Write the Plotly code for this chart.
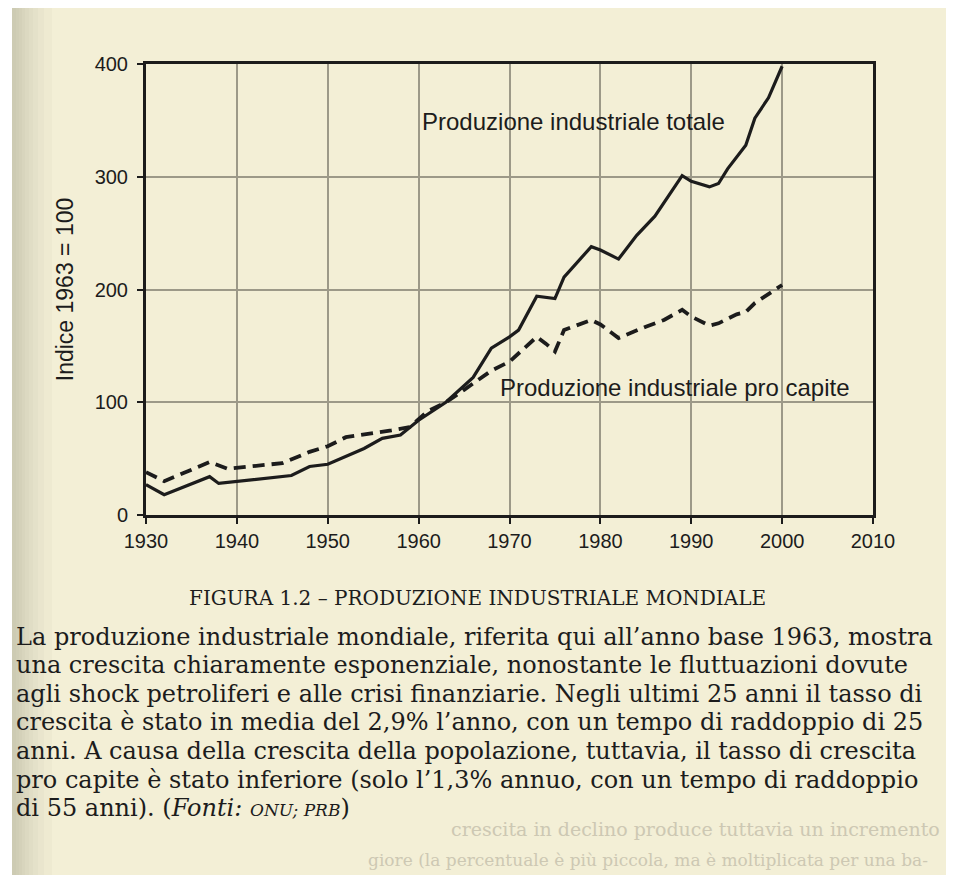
import plotly.graph_objects as go

# ---- data ----
years_total = [1930, 1932, 1937, 1938, 1946, 1948, 1950, 1954, 1956, 1958, 1960, 1963,
               1966, 1968, 1970, 1971, 1973, 1975, 1976, 1979, 1980, 1982, 1984, 1986,
               1989, 1990, 1992, 1993, 1994, 1996, 1997, 1998.5, 2000]
total = [27, 18, 34, 28, 35, 43, 45, 59, 68, 71, 84, 100,
         122, 148, 158, 164, 194, 192, 211, 238, 235, 227, 248, 265,
         301, 296, 291, 294, 307, 328, 352, 370, 398]

years_pc = [1930, 1932, 1937, 1939, 1945, 1948, 1950, 1952, 1957, 1959, 1961, 1963,
            1965, 1968, 1970, 1973, 1974, 1975, 1976, 1979, 1980, 1982, 1985, 1987,
            1989, 1990, 1992, 1993, 1995, 1996, 1997, 1998.5, 2000]
per_capita = [38, 30, 47, 41, 46, 56, 61, 69, 75, 78, 92, 100,
              111, 128, 136, 158, 152, 145, 164, 173, 169, 157, 167, 173,
              182, 176, 168, 170, 178, 180, 188, 196, 204]

x_ticks = [1930, 1940, 1950, 1960, 1970, 1980, 1990, 2000, 2010]
y_ticks = [0, 100, 200, 300, 400]

label_total = "Produzione industriale totale"
label_pc = "Produzione industriale pro capite"
y_title = "Indice 1963 = 100"
caption = "FIGURA 1.2 – PRODUZIONE INDUSTRIALE MONDIALE"
paragraph = [
    "La produzione industriale mondiale, riferita qui all’anno base 1963, mostra",
    "una crescita chiaramente esponenziale, nonostante le fluttuazioni dovute",
    "agli shock petroliferi e alle crisi finanziarie. Negli ultimi 25 anni il tasso di",
    "crescita è stato in media del 2,9% l’anno, con un tempo di raddoppio di 25",
    "anni. A causa della crescita della popolazione, tuttavia, il tasso di crescita",
    "pro capite è stato inferiore (solo l’1,3% annuo, con un tempo di raddoppio",
    "di 55 anni). (<i>Fonti:</i> <i><span style='font-size:17px'>ONU; PRB</span></i>)",
]
faint_lines = [
    "crescita in declino produce tuttavia un incremento",
    "giore (la percentuale è più piccola, ma è moltiplicata per una ba-",
]

PAGE = "#f3efd6"
INK = "#1c1c1c"
OFF = 8                      # page body margin of the html page
W, H = 954 - OFF, 875 - OFF
L, R, T = 146 - OFF, W - (873 - OFF), 64 - OFF
B = H - (515 - OFF)
pw, ph = W - L - R, H - T - B

def px(xr):
    return (xr - OFF - L) / pw

def py(yr):
    return (H - B - (yr - OFF)) / ph

fig = go.Figure()
fig.add_trace(go.Scatter(x=years_total, y=total, mode="lines",
                         line=dict(color=INK, width=3.2), showlegend=False))
fig.add_trace(go.Scatter(x=years_pc, y=per_capita, mode="lines",
                         line=dict(color=INK, width=3.8, dash="12px,7px"), showlegend=False))

shapes = [
    dict(type="rect", xref="paper", yref="paper", x0=px(12), x1=px(970), y0=py(890), y1=py(5),
         fillcolor=PAGE, line=dict(width=0), layer="below"),
]
# soft gutter shadow at the left edge of the page
for w in [40, 32, 26, 21, 17, 13, 10, 7, 4]:
    shapes.append(dict(type="rect", xref="paper", yref="paper", x0=px(12), x1=px(12 + w),
                       y0=py(890), y1=py(5), fillcolor="#8a8470", opacity=0.045,
                       line=dict(width=0), layer="below"))

annotations = [
    dict(x=1960.2, y=349, xref="x", yref="y", text=label_total, showarrow=False,
         xanchor="left", yanchor="middle", font=dict(family="Liberation Sans", size=24, color=INK)),
    dict(x=1968.7, y=113, xref="x", yref="y", text=label_pc, showarrow=False,
         xanchor="left", yanchor="middle", font=dict(family="Liberation Sans", size=24, color=INK)),
    dict(x=px(477), y=py(598), xref="paper", yref="paper", text=caption, showarrow=False,
         xanchor="center", yanchor="middle", font=dict(family="DejaVu Serif", size=20, color=INK)),
]
line_y = [637, 665, 694, 722, 751, 780, 808]
for txt, yy in zip(paragraph, line_y):
    annotations.append(dict(x=px(14), y=py(yy), xref="paper", yref="paper", text=txt,
                            showarrow=False, xanchor="left", yanchor="middle",
                            font=dict(family="DejaVu Serif", size=24, color=INK)))
for txt, xx, yy, fs in zip(faint_lines, [942, 930], [829, 860], [19, 17]):
    annotations.append(dict(x=px(xx), y=py(yy), xref="paper", yref="paper", text=txt,
                            showarrow=False, xanchor="right", yanchor="middle",
                            font=dict(family="DejaVu Serif", size=fs, color="#cdc8b3")))

fig.update_layout(
    width=W, height=H,
    margin=dict(l=L, r=R, t=T, b=B),
    paper_bgcolor="white",
    plot_bgcolor=PAGE,
    shapes=shapes,
    annotations=annotations,
    xaxis=dict(range=[1930, 2010], tickvals=x_ticks, ticktext=[str(v) for v in x_ticks],
               showgrid=True, gridcolor="#9c9988", gridwidth=1.5,
               showline=True, linecolor=INK, linewidth=3, mirror=True,
               ticks="outside", ticklen=6, tickwidth=2, tickcolor=INK, zeroline=False,
               tickfont=dict(family="Liberation Sans", size=20, color=INK)),
    yaxis=dict(range=[0, 400], tickvals=y_ticks, ticktext=[str(v) for v in y_ticks],
               showgrid=True, gridcolor="#9c9988", gridwidth=1.5,
               showline=True, linecolor=INK, linewidth=3, mirror=True,
               ticks="outside", ticklen=6, tickwidth=2, tickcolor=INK, zeroline=False,
               ticklabelstandoff=5,
               tickfont=dict(family="Liberation Sans", size=20, color=INK),
               title=dict(text=y_title, font=dict(family="Liberation Sans", size=23, color=INK),
                          standoff=15)),
)

fig.write_html("out.html")
